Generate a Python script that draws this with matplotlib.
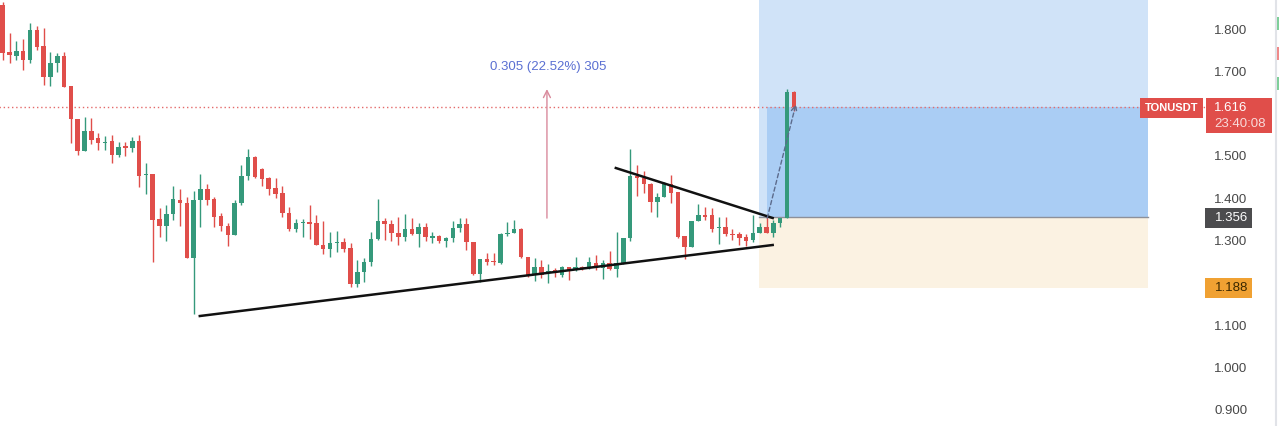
import numpy as np
import matplotlib.pyplot as plt
from matplotlib.patches import Rectangle
from matplotlib.transforms import blended_transform_factory

# --- Candle data (TONUSDT) ---
opens = [1.857, 1.746, 1.736, 1.748, 1.727, 1.798, 1.760, 1.687, 1.720, 1.736,
         1.665, 1.587, 1.512, 1.559, 1.542, 1.531, 1.535, 1.502, 1.523, 1.519,
         1.535, 1.455, 1.457, 1.351, 1.334, 1.363, 1.396, 1.389, 1.259, 1.396,
         1.422, 1.398, 1.358, 1.334, 1.313, 1.389, 1.452, 1.497, 1.469, 1.448,
         1.424, 1.412, 1.365, 1.327, 1.341, 1.343, 1.341, 1.289, 1.280, 1.294,
         1.296, 1.282, 1.197, 1.226, 1.249, 1.304, 1.346, 1.339, 1.318, 1.308,
         1.327, 1.315, 1.332, 1.306, 1.310, 1.299, 1.306, 1.330, 1.339, 1.296,
         1.221, 1.256, 1.251, 1.247, 1.315, 1.318, 1.327, 1.261, 1.218, 1.237,
         1.226, 1.230, 1.218, 1.237, 1.230, 1.237, 1.235, 1.247, 1.235, 1.247,
         1.233, 1.247, 1.306, 1.452, 1.448, 1.434, 1.391, 1.403, 1.434, 1.415,
         1.310, 1.285, 1.346, 1.360, 1.360, 1.330, 1.332, 1.316, 1.315, 1.308,
         1.301, 1.318, 1.332, 1.318, 1.341, 1.353, 1.651]
highs = [1.865, 1.791, 1.772, 1.776, 1.814, 1.807, 1.802, 1.746, 1.743, 1.746,
         1.665, 1.587, 1.592, 1.590, 1.554, 1.547, 1.549, 1.533, 1.533, 1.545,
         1.549, 1.483, 1.457, 1.377, 1.384, 1.429, 1.422, 1.403, 1.417, 1.457,
         1.434, 1.403, 1.365, 1.341, 1.396, 1.478, 1.516, 1.500, 1.471, 1.450,
         1.448, 1.429, 1.379, 1.351, 1.351, 1.384, 1.360, 1.346, 1.320, 1.322,
         1.306, 1.294, 1.254, 1.259, 1.320, 1.398, 1.353, 1.348, 1.356, 1.363,
         1.353, 1.341, 1.341, 1.320, 1.313, 1.308, 1.346, 1.353, 1.353, 1.296,
         1.256, 1.270, 1.270, 1.318, 1.344, 1.348, 1.330, 1.261, 1.259, 1.254,
         1.244, 1.235, 1.240, 1.237, 1.261, 1.240, 1.261, 1.266, 1.254, 1.275,
         1.320, 1.306, 1.516, 1.478, 1.464, 1.436, 1.412, 1.438, 1.455, 1.415,
         1.310, 1.346, 1.386, 1.379, 1.377, 1.356, 1.356, 1.327, 1.320, 1.315,
         1.360, 1.341, 1.356, 1.348, 1.353, 1.658, 1.653]
lows = [1.727, 1.720, 1.727, 1.703, 1.720, 1.750, 1.668, 1.665, 1.698, 1.663,
        1.530, 1.502, 1.512, 1.528, 1.514, 1.514, 1.483, 1.497, 1.500, 1.509,
        1.426, 1.410, 1.249, 1.308, 1.299, 1.348, 1.334, 1.259, 1.126, 1.332,
        1.384, 1.332, 1.322, 1.287, 1.313, 1.384, 1.443, 1.448, 1.429, 1.408,
        1.400, 1.356, 1.322, 1.320, 1.308, 1.304, 1.289, 1.268, 1.261, 1.273,
        1.273, 1.190, 1.190, 1.202, 1.240, 1.301, 1.301, 1.299, 1.289, 1.299,
        1.313, 1.285, 1.299, 1.294, 1.294, 1.285, 1.296, 1.320, 1.278, 1.219,
        1.202, 1.242, 1.242, 1.245, 1.311, 1.318, 1.259, 1.214, 1.204, 1.211,
        1.199, 1.214, 1.214, 1.207, 1.228, 1.230, 1.233, 1.230, 1.209, 1.230,
        1.214, 1.245, 1.299, 1.405, 1.412, 1.367, 1.356, 1.403, 1.389, 1.306,
        1.256, 1.285, 1.346, 1.348, 1.320, 1.292, 1.311, 1.301, 1.289, 1.287,
        1.296, 1.318, 1.318, 1.308, 1.332, 1.353, 1.606]
closes = [1.743, 1.739, 1.748, 1.727, 1.798, 1.757, 1.687, 1.720, 1.736, 1.663,
          1.587, 1.512, 1.559, 1.538, 1.530, 1.534, 1.502, 1.521, 1.519, 1.535,
          1.452, 1.457, 1.348, 1.334, 1.363, 1.398, 1.389, 1.259, 1.396, 1.422,
          1.396, 1.356, 1.334, 1.313, 1.389, 1.452, 1.497, 1.450, 1.445, 1.422,
          1.410, 1.365, 1.327, 1.341, 1.344, 1.340, 1.289, 1.280, 1.294, 1.296,
          1.280, 1.197, 1.226, 1.249, 1.304, 1.346, 1.339, 1.318, 1.308, 1.327,
          1.315, 1.332, 1.308, 1.310, 1.299, 1.306, 1.330, 1.339, 1.296, 1.221,
          1.256, 1.249, 1.249, 1.315, 1.318, 1.327, 1.261, 1.218, 1.237, 1.218,
          1.228, 1.226, 1.237, 1.230, 1.237, 1.235, 1.249, 1.235, 1.247, 1.233,
          1.247, 1.306, 1.452, 1.448, 1.434, 1.391, 1.403, 1.434, 1.412, 1.308,
          1.285, 1.346, 1.360, 1.356, 1.327, 1.332, 1.315, 1.313, 1.306, 1.299,
          1.318, 1.332, 1.318, 1.341, 1.353, 1.651, 1.616]

# 1.600 sits fully under the last-price label, so it is left out
price_ticks = [0.9, 1.0, 1.1, 1.2, 1.3, 1.4, 1.5, 1.7, 1.8]

# --- Drawings on the chart ---
symbol = "TONUSDT"
last_price = 1.616
countdown = "23:40:08"
entry_price = 1.356
stop_price = 1.188
target_price = 1.95
position_bars = [110.9, 112.1, 167.9]      # start, fill start, end (bar index)
support_x, support_y = [28.9, 112.9], [1.1215, 1.2894]
resist_x, resist_y = [89.9, 112.9], [1.4714, 1.3532]
move_x, move_y = [112.1, 116.3], [1.353, 1.622]
measure_bar = 79.8
measure_from, measure_to = 1.353, 1.658
measure_text = "0.305 (22.52%) 305"

GREEN = "#35997b"
RED = "#e04e4a"
FONT = "Liberation Sans"

W, H = 1279, 426
fig = plt.figure(figsize=(W / 100, H / 100), dpi=100)
ax = fig.add_axes([0, 0, 1, 1])
ax.set_xlim(-0.396, 187.14)
ax.set_ylim(0.8615, 1.8686)
px = (1.8686 - 0.8615) / H          # one pixel in price units
for s in ax.spines.values():
    s.set_visible(False)
ax.tick_params(axis="x", bottom=False, labelbottom=False)
ax.yaxis.tick_right()
ax.set_yticks(price_ticks, [f"{t:.3f}" for t in price_ticks])
ax.tick_params(axis="y", length=0, pad=-46.5, labelsize=9.5, labelcolor="#474747")
for lab in ax.get_yticklabels():
    lab.set_fontfamily(FONT)

mixed = blended_transform_factory(ax.transAxes, ax.transData)

# --- Long position tool ---
x0, x1, x2 = position_bars
ax.add_patch(Rectangle((x0, entry_price), x2 - x0, target_price - entry_price,
                       color="#d0e3f8", lw=0, zorder=1))
ax.add_patch(Rectangle((x1, entry_price), x2 - x1, last_price - entry_price,
                       color="#aacdf4", lw=0, zorder=1.1))
ax.add_patch(Rectangle((x0, stop_price), x2 - x0, entry_price - stop_price,
                       color="#fbf2e2", lw=0, zorder=1))
ax.plot([x0, x2], [entry_price, entry_price], color="#8d9099", lw=1, zorder=1.2)

# last price dotted line
ax.plot([-1, 177], [last_price, last_price], color="#e46a6a", lw=1,
        ls=(0, (1, 2)), zorder=1.3)

# --- Candles ---
o, h, l, c = map(np.array, (opens, highs, lows, closes))
x = np.arange(len(o))
cols = np.where(c >= o, GREEN, RED)
ax.vlines(x, l, h, colors=cols, lw=1, zorder=3)
body = np.maximum(np.abs(c - o), 0.0025)
ax.bar(x, body, bottom=np.minimum(o, c), width=0.66, color=cols, lw=0, zorder=4)

# --- Trend lines ---
ax.plot(support_x, support_y, color="#111111", lw=1.8, zorder=5)
ax.plot(resist_x, resist_y, color="#111111", lw=1.8, zorder=5)

# projected move
ax.annotate("", xy=(move_x[1], move_y[1]), xytext=(move_x[0], move_y[0]),
            arrowprops=dict(arrowstyle="->", color="#5c6b8c", lw=1,
                            ls=(0, (3, 2)), shrinkA=0, shrinkB=0), zorder=6)

# --- Measure arrow ---
ax.annotate("", xy=(measure_bar, measure_to), xytext=(measure_bar, measure_from),
            arrowprops=dict(arrowstyle="->,head_length=0.5,head_width=0.25",
                            color="#d98a9c", lw=1, shrinkA=0, shrinkB=0), zorder=2)
ax.text(measure_bar + 0.2, 1.710, measure_text, ha="center", va="center",
        fontsize=9.5, color="#5a6fd2", family=FONT)

# --- Price scale labels ---
def scale_box(xa, xb, top, bottom, color):
    ax.add_patch(Rectangle((xa / W, bottom), (xb - xa) / W, top - bottom,
                           transform=mixed, color=color, lw=0, zorder=8,
                           clip_on=False))

scale_box(1140, 1203, last_price + 9 * px, last_price - 11 * px, RED)
ax.text(1171.5 / W, last_price - 1 * px, symbol, transform=mixed, ha="center",
        va="center", color="white", fontsize=8, weight="bold", family=FONT, zorder=9)
scale_box(1206, 1272, last_price + 9 * px, last_price - 26 * px, RED)
ax.text(1214 / W, last_price - 1 * px, f"{last_price:.3f}", transform=mixed,
        va="center", color="white", fontsize=9.5, family=FONT, zorder=9)
ax.text(1214 / W, last_price - 17 * px, countdown, transform=mixed,
        va="center", color="#f8dada", fontsize=9.5, family=FONT, zorder=9)

scale_box(1205, 1252, entry_price + 9 * px, entry_price - 11 * px, "#4c4c4e")
ax.text(1215 / W, entry_price - 1 * px, f"{entry_price:.3f}", transform=mixed,
        va="center", color="white", fontsize=9.5, family=FONT, zorder=9)

scale_box(1205, 1252, stop_price + 10 * px, stop_price - 10 * px, "#f0a132")
ax.text(1215 / W, stop_price - 0.5 * px, f"{stop_price:.3f}", transform=mixed,
        va="center", color="#3b2800", fontsize=9.5, family=FONT, zorder=9)

# right separator and the edge of the next panel
ax.plot([1275.5 / W] * 2, [0, 1], transform=ax.transAxes, color="#e1e3e8",
        lw=1.5, clip_on=False)
for yy, cc in [(17, "#7fcf9a"), (47, "#ef8a8a"), (77, "#7fcf9a")]:
    fig.patches.append(Rectangle((1277 / W, 1 - (yy + 13) / H), 2 / W, 13 / H,
                                 transform=fig.transFigure, color=cc, lw=0))

fig.savefig("out.png", dpi=100)
